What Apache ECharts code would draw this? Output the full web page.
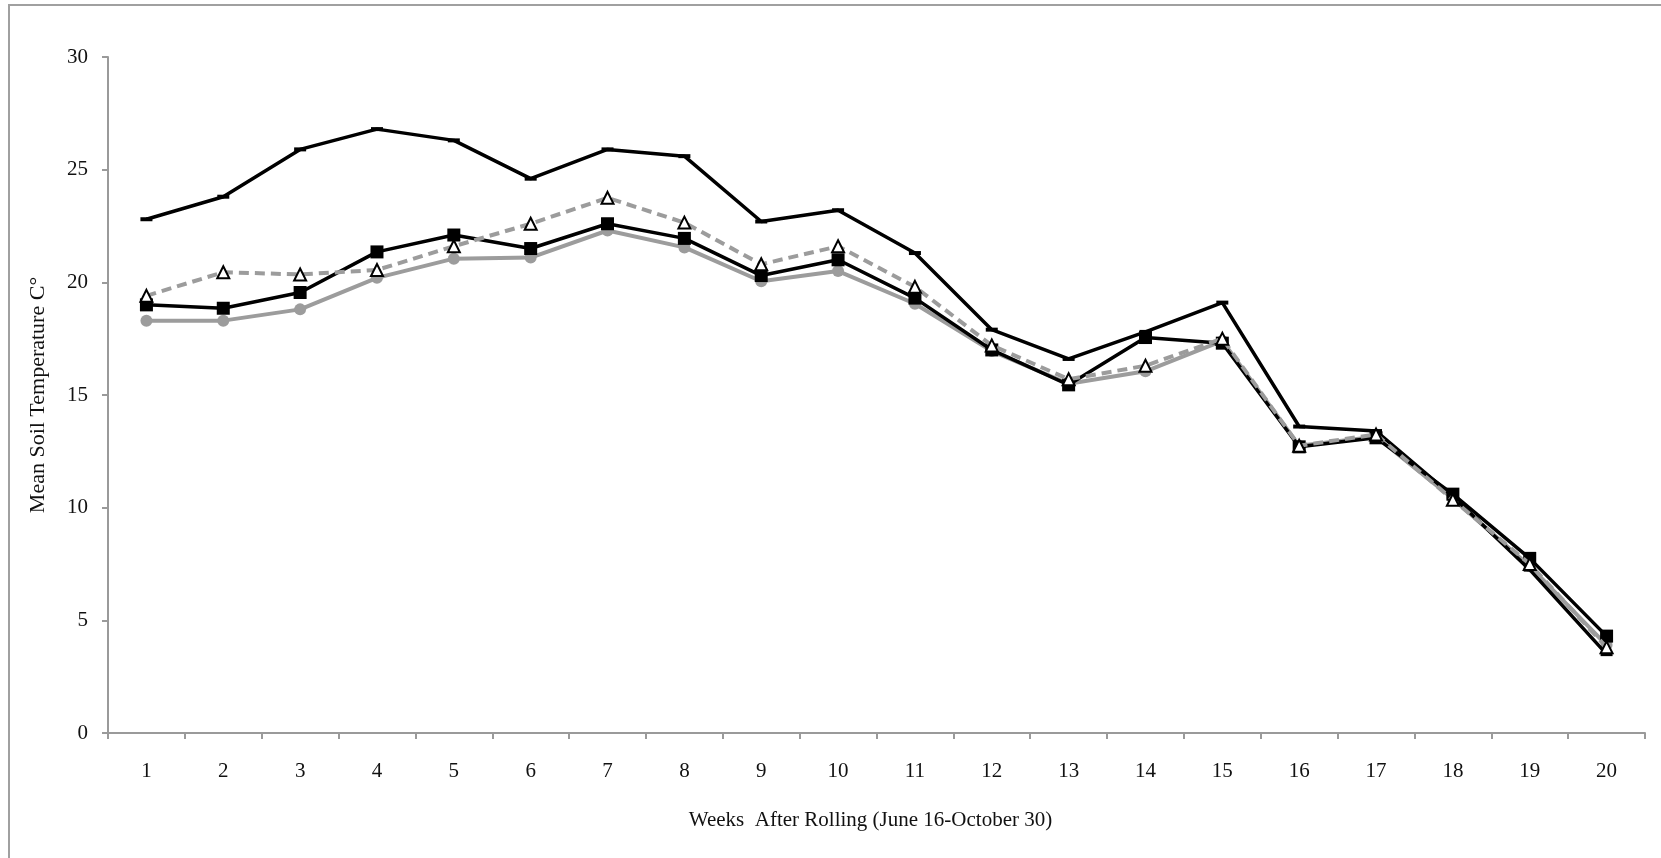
<!DOCTYPE html>
<html>
<head>
<meta charset="utf-8">
<script src="https://cdn.jsdelivr.net/npm/echarts@6/dist/echarts.min.js"></script>
<style>
html,body{margin:0;padding:0;background:#fff;}
#chart{width:1661px;height:858px;}
</style>
</head>
<body>
<div id="chart"></div>
<script>
const weeks = ['1','2','3','4','5','6','7','8','9','10','11','12','13','14','15','16','17','18','19','20'];
const topLine = [22.8, 23.8, 25.9, 26.8, 26.3, 24.6, 25.9, 25.6, 22.7, 23.2, 21.3, 17.9, 16.6, 17.8, 19.1, 13.6, 13.4, 10.5, 7.25, 3.5];
const squares = [19.0, 18.85, 19.55, 21.35, 22.1, 21.5, 22.6, 21.95, 20.3, 21.0, 19.3, 17.0, 15.45, 17.55, 17.3, 12.7, 13.1, 10.6, 7.75, 4.3];
const circles = [18.3, 18.3, 18.8, 20.2, 21.05, 21.1, 22.3, 21.55, 20.05, 20.5, 19.05, 16.95, 15.5, 16.05, 17.4, 12.75, 13.15, 10.4, 7.4, 3.9];
const triangles = [19.4, 20.45, 20.35, 20.55, 21.6, 22.6, 23.75, 22.65, 20.8, 21.6, 19.8, 17.2, 15.7, 16.3, 17.5, 12.75, 13.25, 10.35, 7.5, 3.8];
const yTicks = {min: 0, max: 30, interval: 5};
const xTitle = 'Weeks  After Rolling (June 16-October 30)';
const yTitle = 'Mean Soil Temperature C°';

const font = 'Liberation Serif';
const axisGray = '#9a9a9a';
const chart = echarts.init(document.getElementById('chart'), null, {renderer: 'canvas'});
chart.setOption({
  animation: false,
  backgroundColor: '#fff',
  graphic: [{
    type: 'rect', silent: true, z: -1,
    shape: {x: 9, y: 5, width: 1720, height: 900},
    style: {fill: 'none', stroke: '#a0a0a0', lineWidth: 2}
  }],
  grid: {left: 108, right: 16, top: 57, bottom: 125, containLabel: false},
  xAxis: {
    type: 'category',
    data: weeks,
    boundaryGap: true,
    name: xTitle,
    nameLocation: 'middle',
    nameGap: 77,
    nameTextStyle: {fontFamily: font, fontSize: 21, color: '#111', padding: [0, 12, 0, 0]},
    axisLine: {lineStyle: {color: axisGray, width: 2}},
    axisTick: {show: true, length: 6, alignWithLabel: false, lineStyle: {color: axisGray, width: 2}},
    axisLabel: {fontFamily: font, fontSize: 21, color: '#111', margin: 28},
    splitLine: {show: false}
  },
  yAxis: {
    type: 'value',
    min: yTicks.min, max: yTicks.max, interval: yTicks.interval,
    name: yTitle,
    nameLocation: 'middle',
    nameGap: 59,
    nameRotate: 90,
    nameTextStyle: {fontFamily: font, fontSize: 22, color: '#111'},
    axisLine: {show: true, lineStyle: {color: axisGray, width: 2}},
    axisTick: {show: true, length: 6, lineStyle: {color: axisGray, width: 2}},
    axisLabel: {fontFamily: font, fontSize: 21, color: '#111', margin: 20},
    splitLine: {show: false}
  },
  series: [
    {
      name: 'circles', type: 'line', data: circles, z: 2,
      symbol: 'circle', symbolSize: 12,
      lineStyle: {color: '#9c9c9c', width: 4},
      itemStyle: {color: '#9c9c9c', borderWidth: 0}
    },
    {
      name: 'top', type: 'line', data: topLine, z: 3,
      symbol: 'rect', symbolSize: [12, 4],
      lineStyle: {color: '#000', width: 3.5},
      itemStyle: {color: '#000', borderWidth: 0}
    },
    {
      name: 'squares', type: 'line', data: squares, z: 4,
      symbol: 'rect', symbolSize: 13,
      lineStyle: {color: '#000', width: 3.5},
      itemStyle: {color: '#000', borderWidth: 0}
    },
    {
      name: 'triangles', type: 'line', data: triangles, z: 5,
      symbol: 'triangle', symbolSize: 12,
      lineStyle: {color: '#9c9c9c', width: 4, type: [10, 6]},
      itemStyle: {color: '#fff', borderColor: '#000', borderWidth: 2}
    }
  ]
});
</script>
</body>
</html>
